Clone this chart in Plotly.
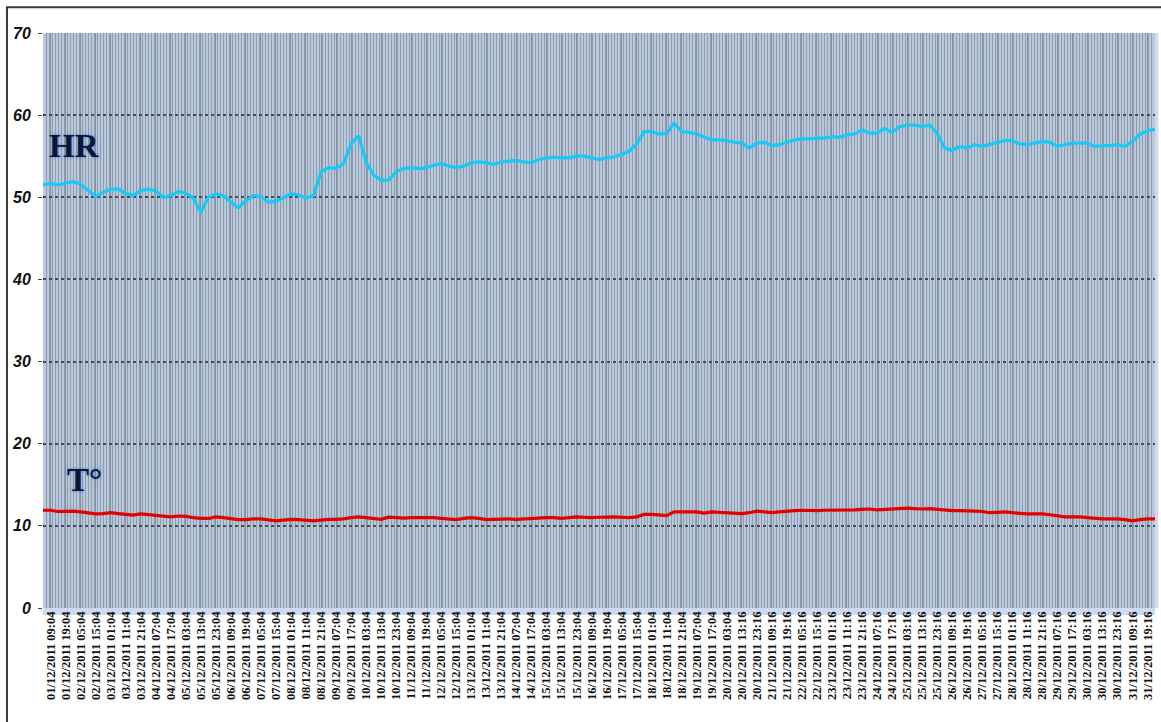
import plotly.graph_objects as go

# Relative humidity (%) and temperature (°C), one reading every 5 hours
hr_values = [
    51.5, 51.7, 51.5, 51.7, 51.9, 51.6, 50.9, 50.1, 50.6, 51.0,
    51.0, 50.5, 50.2, 50.8, 51.0, 50.8, 50.0, 50.2, 50.7, 50.5,
    49.9, 48.1, 50.0, 50.4, 50.2, 49.4, 48.7, 49.6, 50.2, 50.1,
    49.4, 49.5, 50.0, 50.4, 50.3, 49.9, 50.2, 53.1, 53.6, 53.5,
    54.1, 56.5, 57.5, 54.3, 52.7, 52.1, 52.1, 53.1, 53.5, 53.6,
    53.5, 53.6, 53.9, 54.1, 53.8, 53.6, 53.8, 54.2, 54.3, 54.2,
    54.0, 54.3, 54.4, 54.5, 54.3, 54.2, 54.6, 54.8, 54.9, 54.8,
    54.8, 55.0, 55.0, 54.8, 54.6, 54.8, 54.9, 55.2, 55.6, 56.5,
    58.0, 58.0, 57.7, 57.8, 59.0, 58.0, 57.9, 57.7, 57.3, 57.0,
    57.0, 56.9, 56.7, 56.6, 56.0, 56.6, 56.7, 56.3, 56.4, 56.7,
    57.0, 57.1, 57.1, 57.2, 57.2, 57.4, 57.3, 57.6, 57.7, 58.2,
    57.8, 57.8, 58.4, 57.9, 58.6, 58.8, 58.8, 58.6, 58.8, 57.8,
    56.0, 55.7, 56.2, 56.0, 56.4, 56.2, 56.4, 56.7, 56.9, 56.9,
    56.5, 56.4, 56.6, 56.8, 56.7, 56.2, 56.4, 56.6, 56.6, 56.6,
    56.2, 56.3, 56.3, 56.4, 56.2, 56.8, 57.7, 58.1, 58.3,
]

temp_values = [
    11.9, 11.9, 11.75, 11.8, 11.8, 11.7, 11.6, 11.45, 11.5, 11.6,
    11.5, 11.4, 11.3, 11.45, 11.35, 11.3, 11.2, 11.1, 11.2, 11.15,
    11.0, 10.9, 10.9, 11.1, 11.0, 10.85, 10.75, 10.75, 10.85, 10.85,
    10.75, 10.6, 10.7, 10.8, 10.75, 10.65, 10.6, 10.7, 10.8, 10.8,
    10.85, 11.0, 11.1, 11.0, 10.9, 10.8, 11.05, 11.0, 10.95, 11.0,
    11.0, 11.0, 11.0, 10.9, 10.8, 10.75, 10.9, 11.0, 10.9, 10.75,
    10.8, 10.85, 10.85, 10.8, 10.85, 10.95, 11.0, 11.0, 11.0, 10.9,
    11.0, 11.1, 11.05, 11.0, 11.05, 11.1, 11.1, 11.05, 11.0, 11.1,
    11.4, 11.4, 11.3, 11.25, 11.7, 11.7, 11.7, 11.7, 11.55, 11.7,
    11.65, 11.6, 11.5, 11.5, 11.6, 11.8, 11.7, 11.6, 11.7, 11.8,
    11.85, 11.9, 11.85, 11.85, 11.9, 11.9, 11.9, 11.9, 11.95, 12.0,
    12.05, 11.95, 12.0, 12.1, 12.15, 12.15, 12.1, 12.05, 12.1, 12.0,
    11.9, 11.85, 11.85, 11.85, 11.8, 11.75, 11.6, 11.65, 11.7, 11.6,
    11.5, 11.45, 11.45, 11.45, 11.35, 11.2, 11.1, 11.1, 11.1, 11.0,
    10.9, 10.85, 10.85, 10.85, 10.75, 10.6, 10.75, 10.85, 10.85,
]

# Category labels, one every 10 readings
tick_labels = [
    "01/12/2011 09:04", "01/12/2011 19:04", "02/12/2011 05:04", "02/12/2011 15:04",
    "03/12/2011 01:04", "03/12/2011 11:04", "03/12/2011 21:04", "04/12/2011 07:04",
    "04/12/2011 17:04", "05/12/2011 03:04", "05/12/2011 13:04", "05/12/2011 23:04",
    "06/12/2011 09:04", "06/12/2011 19:04", "07/12/2011 05:04", "07/12/2011 15:04",
    "08/12/2011 01:04", "08/12/2011 11:04", "08/12/2011 21:04", "09/12/2011 07:04",
    "09/12/2011 17:04", "10/12/2011 03:04", "10/12/2011 13:04", "10/12/2011 23:04",
    "11/12/2011 09:04", "11/12/2011 19:04", "12/12/2011 05:04", "12/12/2011 15:04",
    "13/12/2011 01:04", "13/12/2011 11:04", "13/12/2011 21:04", "14/12/2011 07:04",
    "14/12/2011 17:04", "15/12/2011 03:04", "15/12/2011 13:04", "15/12/2011 23:04",
    "16/12/2011 09:04", "16/12/2011 19:04", "17/12/2011 05:04", "17/12/2011 15:04",
    "18/12/2011 01:04", "18/12/2011 11:04", "18/12/2011 21:04", "19/12/2011 07:04",
    "19/12/2011 17:04", "20/12/2011 03:04", "20/12/2011 13:16", "20/12/2011 23:16",
    "21/12/2011 09:16", "21/12/2011 19:16", "22/12/2011 05:16", "22/12/2011 15:16",
    "23/12/2011 01:16", "23/12/2011 11:16", "23/12/2011 21:16", "24/12/2011 07:16",
    "24/12/2011 17:16", "25/12/2011 03:16", "25/12/2011 13:16", "25/12/2011 23:16",
    "26/12/2011 09:16", "26/12/2011 19:16", "27/12/2011 05:16", "27/12/2011 15:16",
    "28/12/2011 01:16", "28/12/2011 11:16", "28/12/2011 21:16", "29/12/2011 07:16",
    "29/12/2011 17:16", "30/12/2011 03:16", "30/12/2011 13:16", "30/12/2011 23:16",
    "31/12/2011 09:16", "31/12/2011 19:16",
]

y_ticks = [0, 10, 20, 30, 40, 50, 60, 70]

# Reading index (hours from the first reading)
x_idx = [5 * i for i in range(len(hr_values))]
tick_pos = [5 + 10 * k for k in range(len(tick_labels))]

fig = go.Figure()
fig.add_trace(go.Scatter(x=x_idx, y=hr_values, mode="lines", name="HR",
                         line=dict(color="#16c9f6", width=3.2)))
fig.add_trace(go.Scatter(x=x_idx, y=temp_values, mode="lines", name="T°",
                         line=dict(color="#e20000", width=3.2)))

label_font = dict(family="Liberation Serif", size=33, color="#0b1634",
                  shadow="0px 0px 3px #3f7ee0")
fig.add_annotation(x=2.5, y=56.3, xref="x", yref="y", text="<b>HR</b>", showarrow=False,
                   xanchor="left", yanchor="middle", font=label_font)
fig.add_annotation(x=14.5, y=15.6, xref="x", yref="y", text="<b>T°</b>", showarrow=False,
                   xanchor="left", yanchor="middle", font=label_font)

# soft light-blue band under the category axis
fig.add_shape(type="rect", xref="paper", yref="paper",
              x0=0, x1=1, y0=-0.012, y1=0,
              line=dict(width=0), fillcolor="rgba(160,190,230,0.55)", layer="below")
# thin light edge on the right of the plot area
fig.add_shape(type="rect", xref="paper", yref="paper",
              x0=1, x1=1.003, y0=0, y1=1,
              line=dict(width=0), fillcolor="rgba(200,208,220,0.8)", layer="below")

# outer frame around the whole chart (right and bottom edges fall outside the page)
fig.add_shape(type="rect", xref="paper", yref="paper",
              x0=-0.0324, x1=1.008, y0=-0.205, y1=1.045,
              line=dict(color="#3a3a3a", width=2), fillcolor="rgba(0,0,0,0)", layer="above")

fig.update_layout(
    width=1161, height=722,
    margin=dict(l=43, r=6, t=33, b=114),
    paper_bgcolor="white",
    plot_bgcolor="#b7c9df",
    showlegend=False,
)
fig.update_xaxes(
    range=[0, 740],
    tickmode="array", tickvals=tick_pos,
    ticktext=["<b>" + t + "</b>" for t in tick_labels],
    tickangle=-90,
    tickfont=dict(family="Liberation Serif", size=12.5, color="#111111"),
    showgrid=True, gridcolor="#85909c", gridwidth=1,
    minor=dict(tickmode="linear", tick0=0, dtick=2, showgrid=True,
               gridcolor="#929ca8", gridwidth=1),
    zeroline=False, showline=False, ticks="",
)
fig.update_yaxes(
    range=[0, 70],
    tickmode="array", tickvals=y_ticks,
    ticktext=["<b><i>" + str(v) + "</i></b>" for v in y_ticks],
    showgrid=True, gridcolor="#424b56", gridwidth=2, griddash="dot",
    ticks="outside", ticklen=4, tickcolor="#444444",
    ticklabelstandoff=4,
    tickfont=dict(family="Liberation Sans", size=16, color="#111111"),
    zeroline=False, showline=False,
)

fig.write_html("out.html")
